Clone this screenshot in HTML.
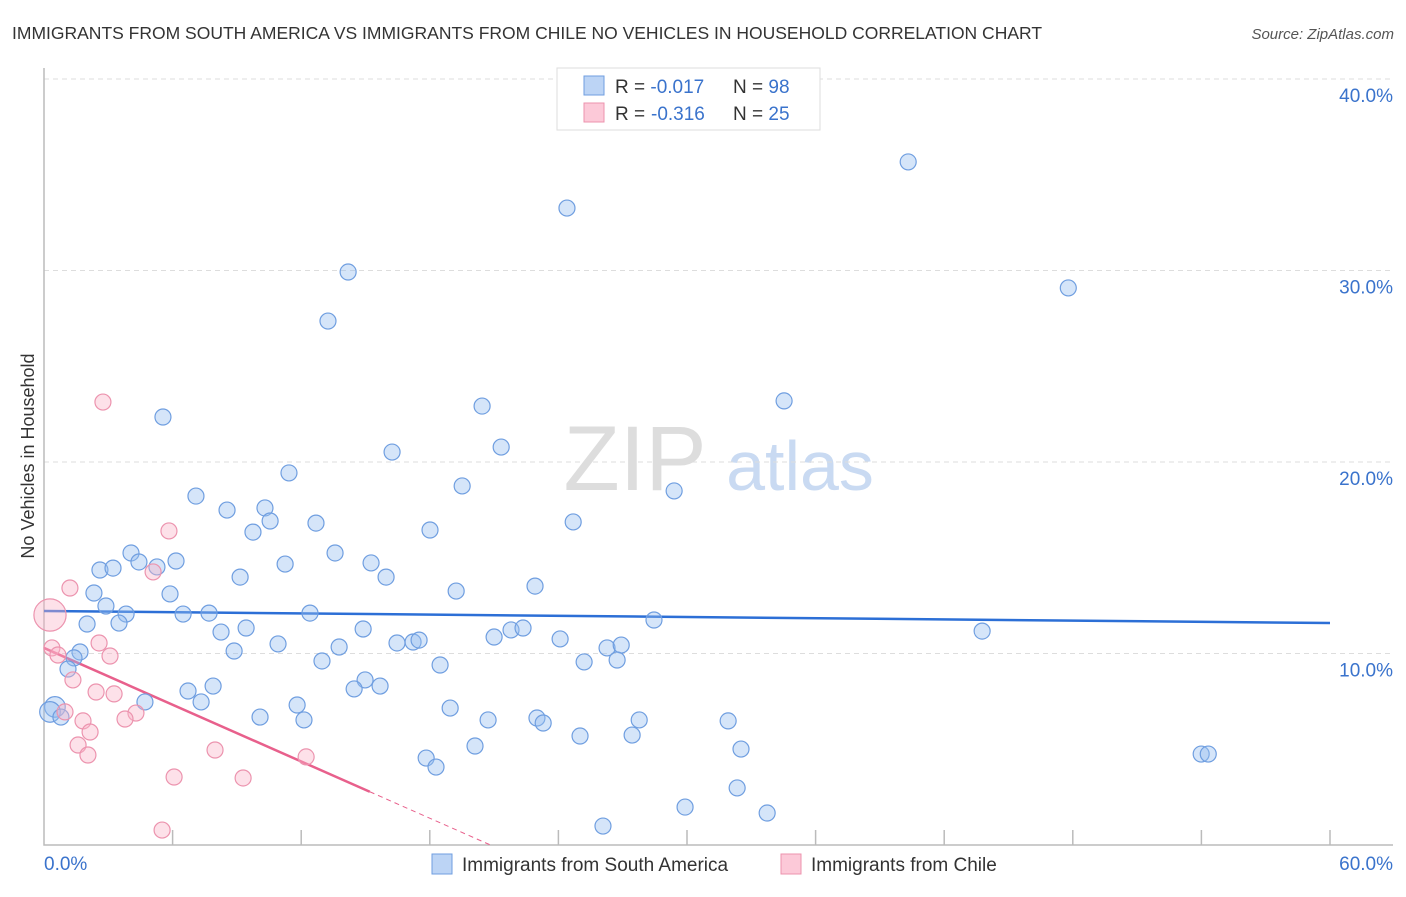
<!DOCTYPE html>
<html><head><meta charset="utf-8"><style>
body{margin:0;background:#fff;font-family:"Liberation Sans",sans-serif}
svg text{font-family:"Liberation Sans",sans-serif}
</style></head><body>
<svg id="chart" width="1406" height="892" viewBox="0 0 1406 892">
<text x="12" y="39" font-size="17.5" fill="#333">IMMIGRANTS FROM SOUTH AMERICA VS IMMIGRANTS FROM CHILE NO VEHICLES IN HOUSEHOLD CORRELATION CHART</text>
<text x="1394" y="39" font-size="15" fill="#555" font-style="italic" text-anchor="end">Source: ZipAtlas.com</text>
<text transform="translate(34,456) rotate(-90)" font-size="18" fill="#333" text-anchor="middle">No Vehicles in Household</text>
<g>
<text x="635" y="490" font-size="92" fill="#ddd" font-family="Liberation Serif" text-anchor="middle" font-family="Liberation Serif">ZIP</text>
<text x="800" y="490" font-size="70" fill="#c9daf2" text-anchor="middle">atlas</text>
</g>
<g id="grid"></g><g id="axes"></g><g id="trends"></g><g id="pts"></g>
<g>
<rect x="557" y="68" width="263" height="62" fill="#fff" stroke="#ddd"/>
<rect x="584" y="76" width="20" height="19" fill="#bcd4f5" stroke="#6f9ee0"/>
<rect x="584" y="103" width="20" height="19" fill="#fcc9d8" stroke="#ec93ae"/>
<text x="615" y="93" font-size="19" fill="#333">R = <tspan fill="#3a73cc">-0.017</tspan><tspan x="733">N = </tspan><tspan fill="#3a73cc">98</tspan></text>
<text x="615" y="120" font-size="19" fill="#333">R = <tspan fill="#3a73cc" x="651">-0.316</tspan><tspan x="733">N = </tspan><tspan fill="#3a73cc">25</tspan></text>
</g>
<g>
<rect x="432" y="854" width="20" height="20" fill="#bcd4f5" stroke="#6f9ee0"/>
<text x="462" y="871" font-size="19" fill="#333">Immigrants from South America</text>
<rect x="781" y="854" width="20" height="20" fill="#fcc9d8" stroke="#ec93ae"/>
<text x="811" y="871" font-size="19" fill="#333">Immigrants from Chile</text>
</g>
</svg>
<script>
const yTicks=[10,20,30,40];
const yTickLabels=["10.0%","20.0%","30.0%","40.0%"];
const xTickVals=[6,12,18,24,30,36,42,48,54,60];
const blueX=[5.55,14.19,13.25,24.4,40.32,47.79,34.53,20.44,21.33,16.24,11.43,19.51,29.4,7.09,8.54,10.31,10.55,9.75,12.69,18.01,24.69,4.06,4.43,6.16,5.27,2.61,3.22,13.58,15.26,9.15,11.25,15.96,19.23,22.91,2.33,5.88,2.89,3.83,3.5,6.49,7.7,12.41,2.01,8.26,9.43,14.89,21.0,21.79,22.35,24.08,28.46,43.77,10.92,13.77,16.47,17.22,17.5,26.27,26.93,8.87,1.68,1.4,1.12,12.97,25.2,26.74,18.48,14.98,14.47,15.68,7.89,6.72,4.71,7.33,11.81,18.95,12.13,10.08,20.72,23.0,23.29,27.77,31.92,0.51,0.28,0.79,25.01,27.44,17.83,18.29,20.11,32.52,32.34,29.91,33.74,26.08,53.99,54.32];
const blueY=[22.35,29.92,27.36,33.26,35.67,29.09,23.19,22.92,20.78,20.52,19.43,18.75,18.49,18.22,17.49,17.6,16.92,16.34,16.81,16.45,16.87,15.25,14.78,14.83,14.52,14.36,14.46,15.25,14.73,13.99,14.67,13.99,13.26,13.52,13.16,13.11,12.48,12.06,11.59,12.06,12.11,12.11,11.54,11.12,11.33,11.28,10.86,11.23,11.33,10.76,11.75,11.17,10.5,10.34,10.55,10.6,10.7,10.29,10.44,10.13,10.08,9.77,9.19,9.61,9.56,9.66,9.4,8.62,8.15,8.3,8.3,8.04,7.47,7.47,7.31,7.15,6.53,6.68,6.53,6.63,6.37,6.53,6.48,7.21,6.95,6.68,5.69,5.74,4.54,4.07,5.17,5.01,2.98,1.98,1.67,0.99,4.75,4.75];
const blueWeight=blueX.map((v,i)=>(i===83||i===84)?2.6:1);
const pinkX=[2.75,5.83,1.21,5.09,0.28,0.37,0.65,2.57,3.08,1.35,2.43,3.27,1.82,2.15,4.29,3.78,0.98,1.59,2.05,7.98,6.07,9.29,12.23,5.51];
const pinkY=[23.13,16.4,13.42,14.26,12.01,10.29,9.92,10.55,9.87,8.62,7.99,7.89,6.48,5.9,6.89,6.58,6.95,5.22,4.7,4.96,3.55,3.5,4.6,0.78];
const pinkWeight=pinkX.map((v,i)=>i===4?5:1);
const blueTrend=[12.22,11.59];
const pinkIntercept=10.29, pinkSlope=-0.494, pinkSolidEnd=15.2;

const X=v=>44+v/60*1286, Y=v=>845-v*19.15;
const NS="http://www.w3.org/2000/svg";
function mk(t,a,p){const e=document.createElementNS(NS,t);for(const k in a)e.setAttribute(k,a[k]);p.appendChild(e);return e;}
const grid=document.getElementById('grid'),axes=document.getElementById('axes'),tr=document.getElementById('trends'),pts=document.getElementById('pts');
yTicks.forEach((v,i)=>{
 const l=mk('line',{x1:44,x2:1393,y1:Y(v),y2:Y(v),stroke:'#ddd','stroke-dasharray':'5,4'},grid);
 
 
 const t=mk('text',{x:1393,y:Y(v)+23,'font-size':19,fill:'#3a73cc','text-anchor':'end'},axes);
 t.textContent=yTickLabels[i];
 
 
});
const ax=mk('path',{d:`M44 68V845H1393`,stroke:'#bbb',fill:'none','stroke-width':1.5},axes);


xTickVals.forEach(v=>{const l=mk('line',{x1:X(v),x2:X(v),y1:830,y2:845,stroke:'#bbb','stroke-width':1.5},axes);
 
 });
const x0=mk('text',{x:44,y:870,'font-size':19,fill:'#3a73cc'},axes);x0.textContent='0.0%';


const x1=mk('text',{x:1393,y:870,'font-size':19,fill:'#3a73cc','text-anchor':'end'},axes);x1.textContent='60.0%';


blueX.forEach((v,i)=>{const c=mk('circle',{cx:X(v),cy:Y(blueY[i]),r:8*Math.sqrt(blueWeight[i])*(blueWeight[i]>1?0.8:1),fill:'rgba(150,190,240,0.4)',stroke:'#6f9ee0','stroke-width':1.2},pts);
 
 });
pinkX.forEach((v,i)=>{const c=mk('circle',{cx:X(v),cy:Y(pinkY[i]),r:8*Math.sqrt(pinkWeight[i])*(pinkWeight[i]>1?0.9:1),fill:'rgba(250,180,200,0.4)',stroke:'#ec93ae','stroke-width':1.2},pts);
 
 });
const bl=mk('line',{x1:X(0),y1:Y(blueTrend[0]),x2:X(60),y2:Y(blueTrend[1]),stroke:'#2c6fd6','stroke-width':2.5},tr);


const pz=-pinkIntercept/pinkSlope;
const pl=mk('line',{x1:X(0),y1:Y(pinkIntercept),x2:X(pinkSolidEnd),y2:Y(pinkIntercept+pinkSlope*pinkSolidEnd),stroke:'#e8608c','stroke-width':2.5},tr);


const pd=mk('line',{x1:X(pinkSolidEnd),y1:Y(pinkIntercept+pinkSlope*pinkSolidEnd),x2:X(pz),y2:Y(0),stroke:'#e8608c','stroke-width':1,'stroke-dasharray':'5,4'},tr);


</script>
</body></html>
